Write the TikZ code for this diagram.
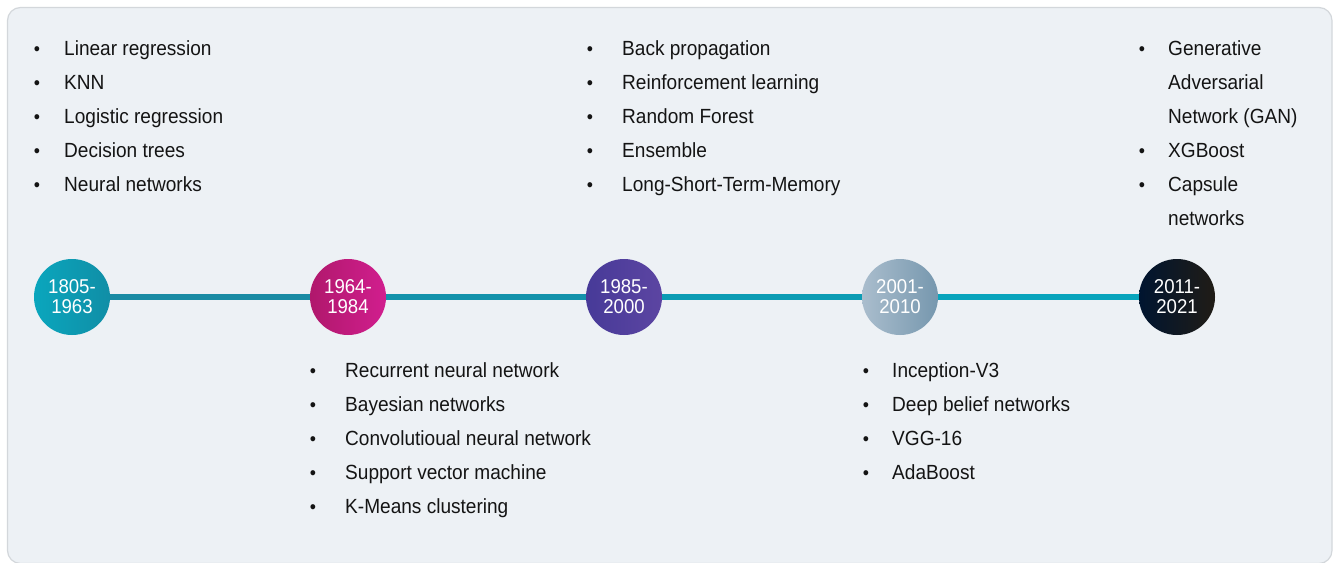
\documentclass[tikz,border=0pt]{standalone}
\usepackage{fontspec}
\setmainfont[FakeStretch=0.93]{Liberation Sans}
\definecolor{bgfill}{HTML}{EDF1F5}
\definecolor{bgline}{HTML}{D3D7DB}
\definecolor{txt}{HTML}{141414}
\tikzset{
  itemtext/.style={anchor=base west, inner sep=0pt, text=txt, font=\fontsize{20.5}{34}\selectfont},
  bulletmark/.style={anchor=base, inner sep=0pt, text=txt, font=\fontsize{19}{19}\selectfont},
  era/.style={circle, minimum size=76pt, inner sep=0pt, align=center, text=white,
              font=\fontsize{20}{20}\selectfont},
  tl/.style={line width=6pt}
}
\begin{document}
\begin{tikzpicture}[x=1pt,y=-1pt]
\useasboundingbox (0,0) rectangle (1335,562);
\draw[bgline, fill=bgfill, line width=1.2pt, rounded corners=13pt] (7.5,7.5) rectangle (1332,563.5);

% era circles
\node[era, left color={rgb,255:red,10;green,166;blue,189}, right color={rgb,255:red,16;green,142;blue,166}] (c1) at (72,297) {1805-\\1963};
\node[era, left color={rgb,255:red,176;green,24;blue,108}, right color={rgb,255:red,209;green,30;blue,142}] (c2) at (348,297) {1964-\\1984};
\node[era, left color={rgb,255:red,71;green,58;blue,152}, right color={rgb,255:red,92;green,69;blue,162}] (c3) at (624,297) {1985-\\2000};
\node[era, left color={rgb,255:red,170;green,189;blue,205}, right color={rgb,255:red,118;green,151;blue,174}] (c4) at (900,297) {2001-\\2010};
\node[era, left color={rgb,255:red,0;green,21;blue,48}, right color={rgb,255:red,32;green,28;blue,22}] (c5) at (1177,297) {2011-\\2021};

% timeline
\definecolor{l1}{HTML}{1A8BA4}
\definecolor{l2}{HTML}{1392AB}
\definecolor{l3}{HTML}{0C9CB4}
\definecolor{l4}{HTML}{08A4BC}
\draw[tl, l1] (c1) -- (c2);
\draw[tl, l2] (c2) -- (c3);
\draw[tl, l3] (c3) -- (c4);
\draw[tl, l4] (c4) -- (c5);

% column 1 (top)
\foreach \t [count=\i] in {Linear regression, KNN, Logistic regression, Decision trees, Neural networks}{
  \node[bulletmark] (ba\i) at (37,{55+34*(\i-1)}) {•};
  \node[itemtext] (ia\i) at (64,{55+34*(\i-1)}) {\t};
}
% column 2 (bottom)
\foreach \t [count=\i] in {Recurrent neural network, Bayesian networks, Convolutioual neural network, Support vector machine, K-Means clustering}{
  \node[bulletmark] (bb\i) at (313,{377+34*(\i-1)}) {•};
  \node[itemtext] (ib\i) at (345,{377+34*(\i-1)}) {\t};
}
% column 3 (top)
\foreach \t [count=\i] in {Back propagation, Reinforcement learning, Random Forest, Ensemble, Long-Short-Term-Memory}{
  \node[bulletmark] (bc\i) at (590,{55+34*(\i-1)}) {•};
  \node[itemtext] (ic\i) at (622,{55+34*(\i-1)}) {\t};
}
% column 4 (bottom)
\foreach \t [count=\i] in {Inception-V3, Deep belief networks, VGG-16, AdaBoost}{
  \node[bulletmark] (bd\i) at (866,{377+34*(\i-1)}) {•};
  \node[itemtext] (id\i) at (892,{377+34*(\i-1)}) {\t};
}
% column 5 (top)
\node[bulletmark] (be1) at (1142,55) {•};
\node[itemtext] (ie1) at (1168,55) {Generative};
\node[itemtext] (ie1b) at (1168,89) {Adversarial};
\node[itemtext] (ie1c) at (1168,123) {Network (GAN)};
\node[bulletmark] (be2) at (1142,157) {•};
\node[itemtext] (ie2) at (1168,157) {XGBoost};
\node[bulletmark] (be3) at (1142,191) {•};
\node[itemtext] (ie3) at (1168,191) {Capsule};
\node[itemtext] (ie3b) at (1168,225) {networks};
\end{tikzpicture}
\end{document}
